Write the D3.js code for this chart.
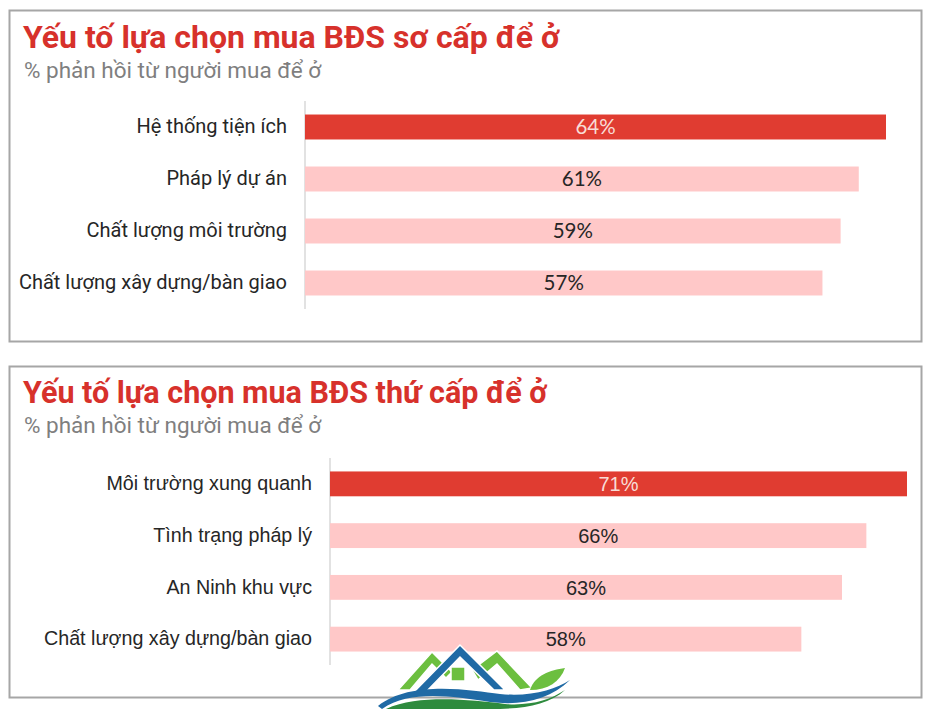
<!DOCTYPE html>
<html><head><meta charset="utf-8">
<script src="https://cdn.jsdelivr.net/npm/d3@7"></script>
<style>
body{margin:0;background:#fff;}
svg{display:block;}
</style></head>
<body>
<svg id="c" width="940" height="709"></svg>
<script>
// Panel 1 data
const title1 = "Yếu tố lựa chọn mua BĐS sơ cấp để ở";
const subtitle1 = "% phản hồi từ người mua để ở";
const categories1 = ["Hệ thống tiện ích", "Pháp lý dự án", "Chất lượng môi trường", "Chất lượng xây dựng/bàn giao"];
const values1 = [64, 61, 59, 57];

// Panel 2 data
const title2 = "Yếu tố lựa chọn mua BĐS thứ cấp để ở";
const subtitle2 = "% phản hồi từ người mua để ở";
const categories2 = ["Môi trường xung quanh", "Tình trạng pháp lý", "An Ninh khu vực", "Chất lượng xây dựng/bàn giao"];
const values2 = [71, 66, 63, 58];

const svg = d3.select("#c");
const RED = "#e03c31", PINK = "#ffc8c8";

function panel(cfg){
  const g = svg.append("g");
  g.append("rect").attr("x",cfg.box[0]).attr("y",cfg.box[1]).attr("width",cfg.box[2]).attr("height",cfg.box[3])
    .attr("fill","#fff").attr("stroke","#a6a6a6").attr("stroke-width",2);
  g.append("text").attr("x",23).attr("y",cfg.titleY).text(cfg.title)
    .attr("font-family","Roboto").attr("font-weight","bold").attr("font-size",cfg.titleSize).attr("fill","#d7312b");
  g.append("text").attr("x",24).attr("y",cfg.subY).text(cfg.subtitle)
    .attr("font-family","Roboto").attr("font-size",22.5).attr("fill","#7f7f7f");

  const x = d3.scaleLinear().domain([0, cfg.xMax]).range([cfg.x0, cfg.x1]);
  const y = d3.scaleBand().domain(cfg.cats).range([cfg.yTop, cfg.yBot]).paddingInner(0.52).paddingOuter(0.26);

  const ax = g.append("g").attr("transform",`translate(${cfg.x0},0)`)
    .call(d3.axisLeft(y).tickSize(0).tickPadding(cfg.x0 - cfg.labelX));
  ax.select(".domain").remove();
  ax.selectAll("text").attr("font-family",cfg.labelFont).attr("font-size",cfg.labelSize).attr("fill","#262626");

  g.append("line").attr("x1",cfg.x0).attr("x2",cfg.x0).attr("y1",cfg.axisTop).attr("y2",cfg.axisBot)
    .attr("stroke","#d9d9d9").attr("stroke-width",1.5);

  const data = cfg.cats.map((c,i)=>({c, v: cfg.vals[i], i}));
  g.selectAll("rect.bar").data(data).join("rect").attr("class","bar")
    .attr("x",x(0)).attr("y",d=>y(d.c)).attr("width",d=>x(d.v)-x(0)).attr("height",y.bandwidth())
    .attr("fill",d=>d.i===0?RED:PINK);
  g.selectAll("text.val").data(data).join("text").attr("class","val")
    .attr("x",d=>(x(0)+x(d.v))/2).attr("y",d=>y(d.c)+y.bandwidth()/2).attr("dy","0.36em")
    .attr("text-anchor","middle").text(d=>d.v+"%")
    .attr("font-family",cfg.valFont).attr("font-size",cfg.valSize)
    .attr("fill",d=>d.i===0?"#f8dcd6":"#262626");
}

panel({box:[9.5,10.5,912,331], title:title1, subtitle:subtitle1, titleY:48, subY:78, titleSize:32,
  cats:categories1, vals:values1, xMax:64, x0:305, x1:886, labelX:287,
  yTop:101, yBot:309, axisTop:101, axisBot:309,
  labelFont:"Roboto", labelSize:20,
  valFont:"Lato, sans-serif", valSize:20.5});

panel({box:[9.5,366.5,912,331], title:title2, subtitle:subtitle2, titleY:403, subY:433, titleSize:30.5,
  cats:categories2, vals:values2, xMax:71, x0:330, x1:907, labelX:312,
  yTop:458, yBot:665, axisTop:458, axisBot:665,
  labelFont:"'Liberation Sans', Arial, sans-serif", labelSize:19.7,
  valFont:"'Liberation Sans', Arial, sans-serif", valSize:20});

// watermark logo (decorative)
const logo = svg.append("g");
logo.append("path").attr("d","M398,690 L432,652 L452,672 L446,678 L432,664 L410,690 Z").attr("fill","#6cbf3f").attr("stroke","#fff").attr("stroke-width",1.5);
logo.append("path").attr("d","M472,670 L497,651 L532,688 L520,690 L497,664 L478,680 Z").attr("fill","#6cbf3f").attr("stroke","#fff").attr("stroke-width",1.5);
logo.append("path").attr("d","M412,694 L460,645 L505,690 L494,690 L460,657 L424,694 Z").attr("fill","#1f6aa5").attr("stroke","#fff").attr("stroke-width",1.5);
logo.append("rect").attr("x",451).attr("y",667).attr("width",14).attr("height",14).attr("fill","#6cbf3f").attr("stroke","#fff").attr("stroke-width",1.5);
logo.append("path").attr("d","M378,706 C410,680 470,690 500,694 C530,697 555,690 570,680 C550,700 520,706 490,702 C450,696 410,690 382,709 Z").attr("fill","#1f6aa5");
logo.append("path").attr("d","M386,709 C420,694 470,700 505,704 C530,706 550,700 565,690 C548,706 520,709 490,709 Z").attr("fill","#2e8b3e");
logo.append("path").attr("d","M530,690 C535,675 550,670 565,668 C560,682 548,690 530,690 Z").attr("fill","#6cbf3f");
</script>
</body></html>
